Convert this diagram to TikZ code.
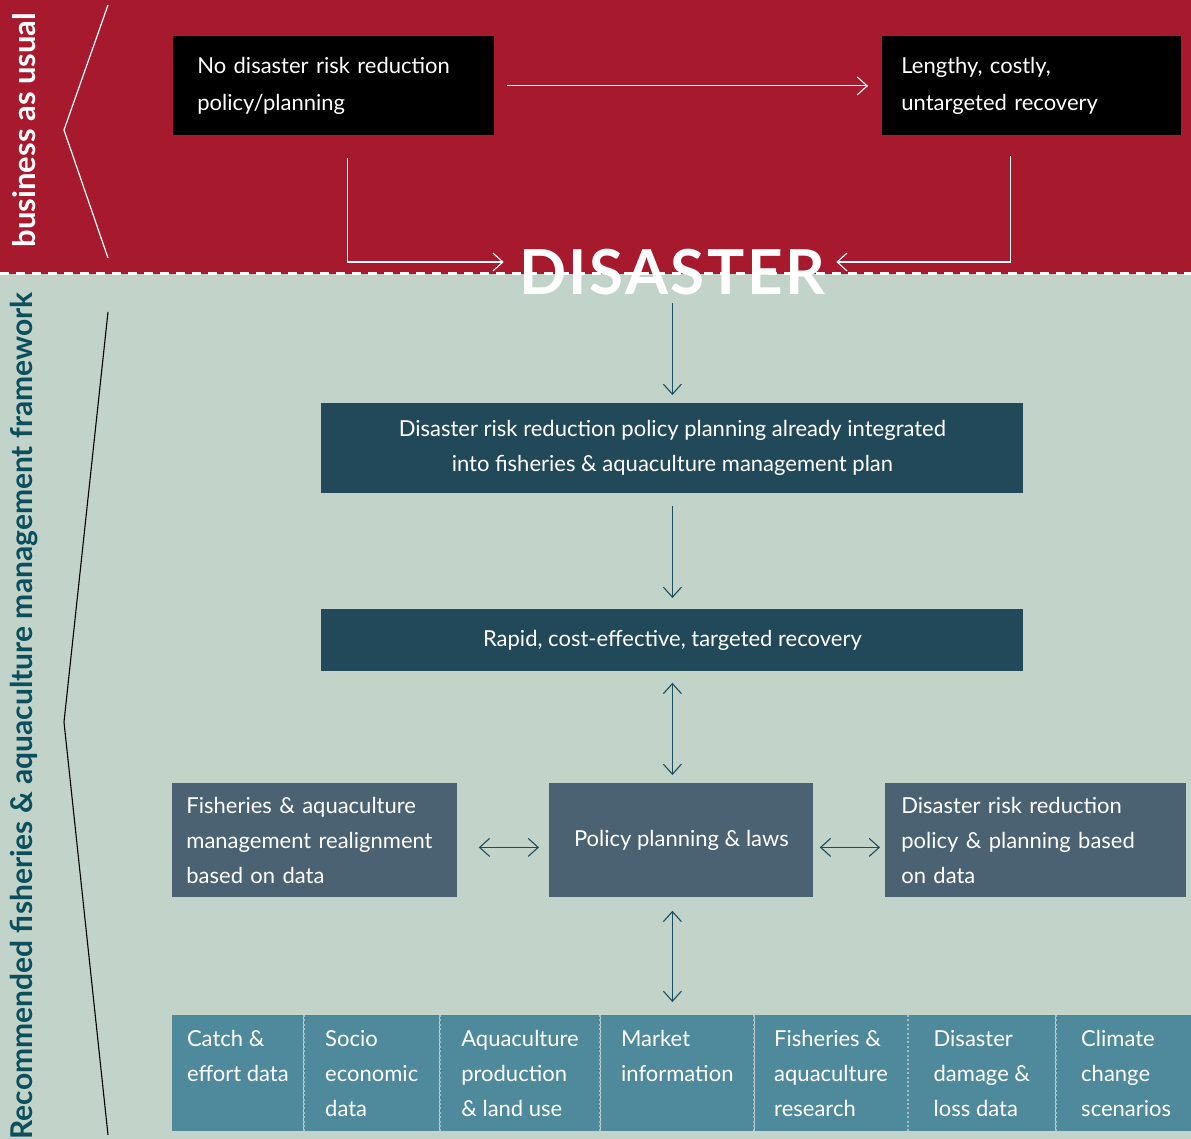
\documentclass[tikz,border=0pt]{standalone}
\usepackage{fontspec}
\setmainfont{Lato}
\usetikzlibrary{positioning,arrows.meta}
\definecolor{bauRed}{HTML}{A71A2E}
\definecolor{frameBg}{HTML}{C2D3CA}
\definecolor{deepTeal}{HTML}{22495A}
\definecolor{slate}{HTML}{4B6272}
\definecolor{dataTeal}{HTML}{4E8A9B}
\definecolor{arrowTeal}{HTML}{1D4E5E}
\definecolor{sideTeal}{HTML}{0B4F5D}
\definecolor{dotLine}{HTML}{A3BDCB}

\begin{document}
\begin{tikzpicture}[
			x=0.5pt,y=-0.5pt,
			font=\fontsize{11}{17.5}\selectfont,
			blackbox/.style={
				fill=black,
				text=white,
				anchor=north west,
				align=left,
				minimum height=49.5pt,
				font=\fontsize{11}{18.5}\selectfont
			},
			bluebox/.style={
				fill=deepTeal,
				text=white,
				anchor=north west,
				align=center,
				minimum width=351pt
			},
			slatebox/.style={
				fill=slate,
				text=white,
				anchor=north west,
				align=left,
				minimum height=57pt
			},
			cell/.style={
				fill=dataTeal,
				text=white,
				align=left,
				minimum height=58pt,
				inner sep=0pt
			},
			sidelabel/.style={
				rotate=90,
				font=\fontsize{15.5}{17}\selectfont\bfseries
			},
			darrow/.style={
				-{Straight Barb[length=5pt,width=9pt]},
				draw=arrowTeal,
				line width=0.55pt
			},
			both/.style={
				{Straight Barb[length=5pt,width=9pt]}-{Straight Barb[length=5pt,width=9pt]},
				draw=arrowTeal,
				line width=0.55pt
			},
			warrow/.style={
				-{Straight Barb[length=5pt,width=9pt]},
				draw=white,
				line width=0.55pt
			},
			divider/.style={
				draw=dotLine,
				line width=1pt,
				dash pattern=on 1pt off 1.2pt
			}
			]
			
			\useasboundingbox (0,0) rectangle (1191,1139);
			\fill[bauRed] (0,0) rectangle (1191,274);
			\fill[frameBg] (0,274) rectangle (1191,1139);
			\draw[white,line width=1.5pt,dash pattern=on 4.5pt off 3.5pt] (0,274) -- (1191,274);
			
			\draw[white,line width=0.6pt] (108,5) -- (64,130) -- (108,258);
			\draw[black,line width=0.55pt] (108,312) -- (64,722) -- (108,1135);
			
			\node[sidelabel,text=white] (bau) at (24,130) {business as usual};
			\node[sidelabel,text=sideTeal,font=\fontsize{15}{17}\selectfont\bfseries] (rec) at (24,716)
			{Recommended fisheries \& aquaculture management framework};
			
			\node[blackbox,minimum width=160.5pt,text width=136.5pt,inner xsep=12pt] (nodrr) at (173,36)
			{No disaster risk reduction\\ policy/planning};
			
			\node[blackbox,minimum width=149.5pt,text width=130.5pt,inner xsep=9.5pt] (lengthy) at (882,36)
			{Lengthy, costly,\\ untargeted recovery};
			
			\node[inner sep=0pt,text=white,font=\bfseries\fontsize{31}{31}\selectfont\addfontfeature{LetterSpace=4}] (disaster) at (672,272)
			{DISASTER};
			
			\node[bluebox,minimum height=45pt] (drrplan) at (321,403)
			{Disaster risk reduction policy planning already integrated\\ into fisheries \& aquaculture management plan};
			
			\node[bluebox,minimum height=31pt] (rapid) at (321,609)
			{Rapid, cost-effective, targeted recovery};
			
			\node[slatebox,minimum width=142.5pt,text width=128.5pt,inner xsep=7pt] (realign) at (172,783)
			{Fisheries \& aquaculture\\ management realignment\\ based on data};
			
			\node[slatebox,minimum width=132pt,align=center] (policy) at (549,783)
			{Policy planning \& laws};
			
			\node[slatebox,minimum width=150.5pt,text width=134.5pt,inner xsep=8pt] (drrdata) at (885,783)
			{Disaster risk reduction\\ policy \& planning based\\ on data};
			
			\node[cell,anchor=north west,minimum width=65.5pt] (catch) at (172,1015)
			{Catch \&\\ effort data\\ \mbox{}};
			\node[cell,right=0pt of catch,minimum width=67.5pt] (socio)
			{Socio\\ economic\\ data};
			\node[cell,right=0pt of socio,minimum width=80pt] (aqua)
			{Aquaculture\\ production\\ \& land use};
			\node[cell,right=0pt of aqua,minimum width=76.5pt] (market)
			{Market\\ information\\ \mbox{}};
			\node[cell,right=0pt of market,minimum width=76.5pt] (research)
			{Fisheries \&\\ aquaculture\\ research};
			\node[cell,right=0pt of research,minimum width=73.5pt] (damage)
			{Disaster\\ damage \&\\ loss data};
			\node[cell,right=0pt of damage,minimum width=70pt] (climate)
			{Climate\\ change\\ scenarios};
			
			\foreach \c in {catch,socio,aqua,market,research,damage}
			\draw[divider] (\c.north east) -- (\c.south east);
			
			\draw[warrow,shorten <=6pt,shorten >=7pt] (nodrr.east) -- (lengthy.west);
			\draw[warrow,shorten <=11pt,shorten >=7.5pt] ([xshift=6.75pt]nodrr.south) |- ([yshift=5pt]disaster.west);
			\draw[warrow,shorten <=10pt,shorten >=5.5pt] ([xshift=-10.75pt]lengthy.south) |- ([yshift=5pt]disaster.east);
			
			\draw[darrow,shorten <=4pt,shorten >=4pt] (disaster.south -| drrplan.north) -- (drrplan.north);
			\draw[darrow,shorten <=6pt,shorten >=5.5pt] (drrplan) -- (rapid);
			\draw[both,shorten <=5.5pt,shorten >=4pt] (rapid.south) -- (rapid.south |- policy.north);
			\draw[both,shorten <=10.5pt,shorten >=5pt] ([yshift=-3.5pt]realign.east) -- ([yshift=-3.5pt]policy.west);
			\draw[both,shorten <=3pt,shorten >=2.5pt] ([yshift=-3.5pt]policy.east) -- ([yshift=-3.5pt]drrdata.west);
			\draw[both,shorten <=6.5pt,shorten >=6.5pt] (rapid.south |- policy.south) -- (rapid.south |- catch.north);
			
		\end{tikzpicture}
\end{document}
